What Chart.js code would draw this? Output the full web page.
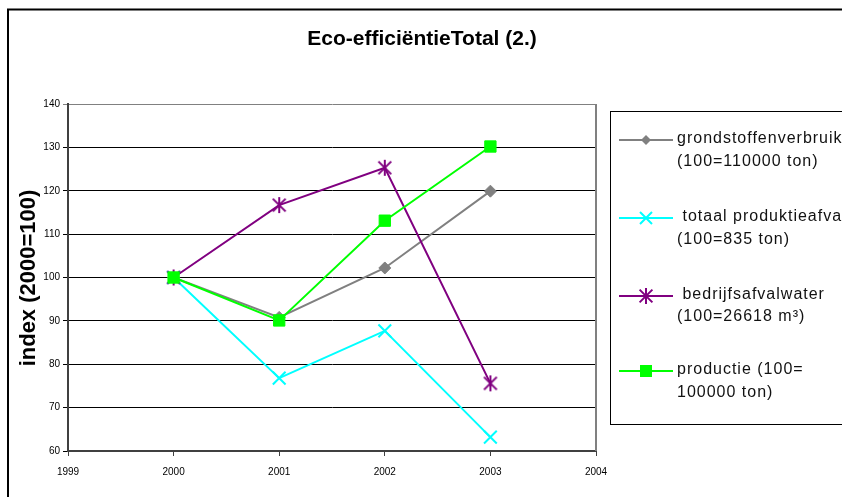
<!DOCTYPE html>
<html>
<head>
<meta charset="utf-8">
<script src="https://cdn.jsdelivr.net/npm/chart.js@4/dist/chart.umd.min.js"></script>
<style>
  html, body { margin: 0; padding: 0; background: #fff; }
  #wrap { width: 842px; height: 497px; position: relative; }
</style>
</head>
<body>
<div id="wrap"><canvas id="c" width="842" height="497"></canvas></div>
<script>
// ---- data ----
const chartTitle = "Eco-efficiëntieTotal (2.)";
const yAxisTitle = "index (2000=100)";
const years = [2000, 2001, 2002, 2003];
const xTickLabels = [1999, 2000, 2001, 2002, 2003, 2004];
const yTickLabels = [60, 70, 80, 90, 100, 110, 120, 130, 140];
const seriesNames = ["grondstoffenverbruik", " totaal produktieafval", " bedrijfsafvalwater", "productie (100="];
const seriesNotes = ["(100=110000 ton)", "(100=835 ton)", "(100=26618 m³)", "100000 ton)"];
const grondstoffen = [100, 90.8, 102.2, 119.9];
const produktieafval = [100, 76.8, 87.7, 63.2];
const bedrijfsafvalwater = [100, 116.7, 125.3, 75.6];
const productie = [100, 90.1, 113.1, 130.2];

const colors = ["#808080", "#00FFFF", "#800080", "#00FF00"];

// custom asterisk (6 arms) marker
function makeAsterisk(color, r) {
  const s = Math.ceil(r * 2 + 4);
  const cv = document.createElement('canvas');
  cv.width = s; cv.height = s;
  const g = cv.getContext('2d');
  const c = s / 2;
  g.strokeStyle = color; g.lineWidth = 2;
  g.beginPath();
  g.moveTo(c - r * 0.8, c - r * 0.8); g.lineTo(c + r * 0.8, c + r * 0.8);
  g.moveTo(c + r * 0.8, c - r * 0.8); g.lineTo(c - r * 0.8, c + r * 0.8);
  g.moveTo(c, c - r); g.lineTo(c, c + r);
  g.stroke();
  return cv;
}
const asterisk = makeAsterisk(colors[2], 8);

function pts(arr) { return years.map((y, i) => ({ x: y, y: arr[i] })); }

const datasets = [
  { label: seriesNames[0], data: pts(grondstoffen), borderColor: colors[0], backgroundColor: colors[0],
    borderWidth: 2, pointStyle: 'rectRot', pointRadius: 6, pointBorderWidth: 1, order: 4 },
  { label: seriesNames[1], data: pts(produktieafval), borderColor: colors[1], backgroundColor: colors[1],
    borderWidth: 2, pointStyle: 'crossRot', pointRadius: 9, pointBorderWidth: 2, order: 3 },
  { label: seriesNames[2], data: pts(bedrijfsafvalwater), borderColor: colors[2], backgroundColor: colors[2],
    borderWidth: 2, pointStyle: asterisk, pointRadius: 8, order: 2 },
  { label: seriesNames[3], data: pts(productie), borderColor: colors[3], backgroundColor: colors[3],
    borderWidth: 2, pointStyle: 'rect', pointRadius: 8, pointBorderWidth: 1, order: 1 }
];

function drawMarker(ctx, i, x, y) {
  ctx.save();
  ctx.strokeStyle = colors[i]; ctx.fillStyle = colors[i]; ctx.lineWidth = 2;
  if (i === 0) {
    ctx.beginPath(); ctx.moveTo(x, y - 5); ctx.lineTo(x + 5, y); ctx.lineTo(x, y + 5); ctx.lineTo(x - 5, y); ctx.closePath(); ctx.fill();
  } else if (i === 1) {
    ctx.beginPath(); ctx.moveTo(x - 6, y - 6); ctx.lineTo(x + 6, y + 6); ctx.moveTo(x + 6, y - 6); ctx.lineTo(x - 6, y + 6); ctx.stroke();
  } else if (i === 2) {
    ctx.drawImage(asterisk, x - asterisk.width / 2, y - asterisk.height / 2);
  } else {
    ctx.fillRect(x - 6, y - 6, 12, 12);
  }
  ctx.restore();
}

const decor = {
  id: 'decor',
  afterDraw(chart) {
    const ctx = chart.ctx;
    const a = chart.chartArea;
    ctx.save();
    // outer frame (left + top)
    ctx.strokeStyle = '#000'; ctx.lineWidth = 2;
    ctx.beginPath(); ctx.moveTo(8, 500); ctx.lineTo(8, 9.5); ctx.lineTo(845, 9.5); ctx.stroke();
    // plot right border
    ctx.strokeStyle = '#808080'; ctx.lineWidth = 2;
    ctx.beginPath(); ctx.moveTo(a.right, a.top); ctx.lineTo(a.right, a.bottom); ctx.stroke();
    // title
    ctx.fillStyle = '#000';
    ctx.font = 'bold 21px "Liberation Sans", Arial, sans-serif';
    ctx.textAlign = 'center'; ctx.textBaseline = 'middle';
    ctx.fillText(chartTitle, 422, 39);
    // y axis title
    ctx.save();
    ctx.translate(29, 278);
    ctx.rotate(-Math.PI / 2);
    ctx.font = 'bold 22px "Liberation Sans", Arial, sans-serif';
    ctx.fillText(yAxisTitle, 0, 0);
    ctx.restore();
    // legend box
    ctx.strokeStyle = '#000'; ctx.lineWidth = 1;
    ctx.strokeRect(610.5, 111.5, 300, 313);
    const rows = [[140, 162], [218, 240], [296, 317], [371, 393]];
    ctx.font = '16px "Liberation Sans", Arial, sans-serif';
    if ('letterSpacing' in ctx) ctx.letterSpacing = '1px';
    ctx.textAlign = 'left';
    for (let i = 0; i < 4; i++) {
      const y = rows[i][0];
      ctx.strokeStyle = colors[i]; ctx.lineWidth = 2;
      ctx.beginPath(); ctx.moveTo(619, y); ctx.lineTo(673, y); ctx.stroke();
      drawMarker(ctx, i, 646, y);
      ctx.fillStyle = '#111';
      ctx.fillText(seriesNames[i], 677, rows[i][0] - 1);
      ctx.fillText(seriesNotes[i], 677, rows[i][1]);
    }
    ctx.restore();
  }
};

new Chart(document.getElementById('c'), {
  type: 'line',
  data: { datasets },
  plugins: [decor],
  options: {
    responsive: false,
    animation: false,
    layout: { padding: { left: 8, top: 104, right: 246, bottom: 0 } },
    plugins: { legend: { display: false }, title: { display: false }, tooltip: { enabled: false } },
    elements: { line: { tension: 0 } },
    scales: {
      x: {
        type: 'linear', min: xTickLabels[0], max: xTickLabels[xTickLabels.length - 1],
        afterBuildTicks: (s) => { s.ticks = xTickLabels.map(v => ({ value: v })); },
        afterFit: (s) => { s.height = 46; },
        ticks: { color: '#000', font: { family: '"Liberation Sans", Arial, sans-serif', size: 10 }, padding: 10,
                 callback: (v) => String(v), maxRotation: 0 },
        grid: { drawOnChartArea: false, drawTicks: true, tickLength: 5, color: '#404040', lineWidth: 1 },
        border: { display: true, color: '#404040', width: 2 }
      },
      y: {
        min: yTickLabels[0], max: yTickLabels[yTickLabels.length - 1],
        afterBuildTicks: (s) => { s.ticks = yTickLabels.map(v => ({ value: v })); },
        afterFit: (s) => { s.width = 60; },
        ticks: { color: '#000', font: { family: '"Liberation Sans", Arial, sans-serif', size: 10 }, padding: 3 },
        grid: { drawTicks: true, tickLength: 5, lineWidth: 1,
                color: (c) => (c.tick && c.tick.value === 140) ? '#808080' : '#000' },
        border: { display: true, color: '#404040', width: 2 }
      }
    }
  }
});
</script>
</body>
</html>
